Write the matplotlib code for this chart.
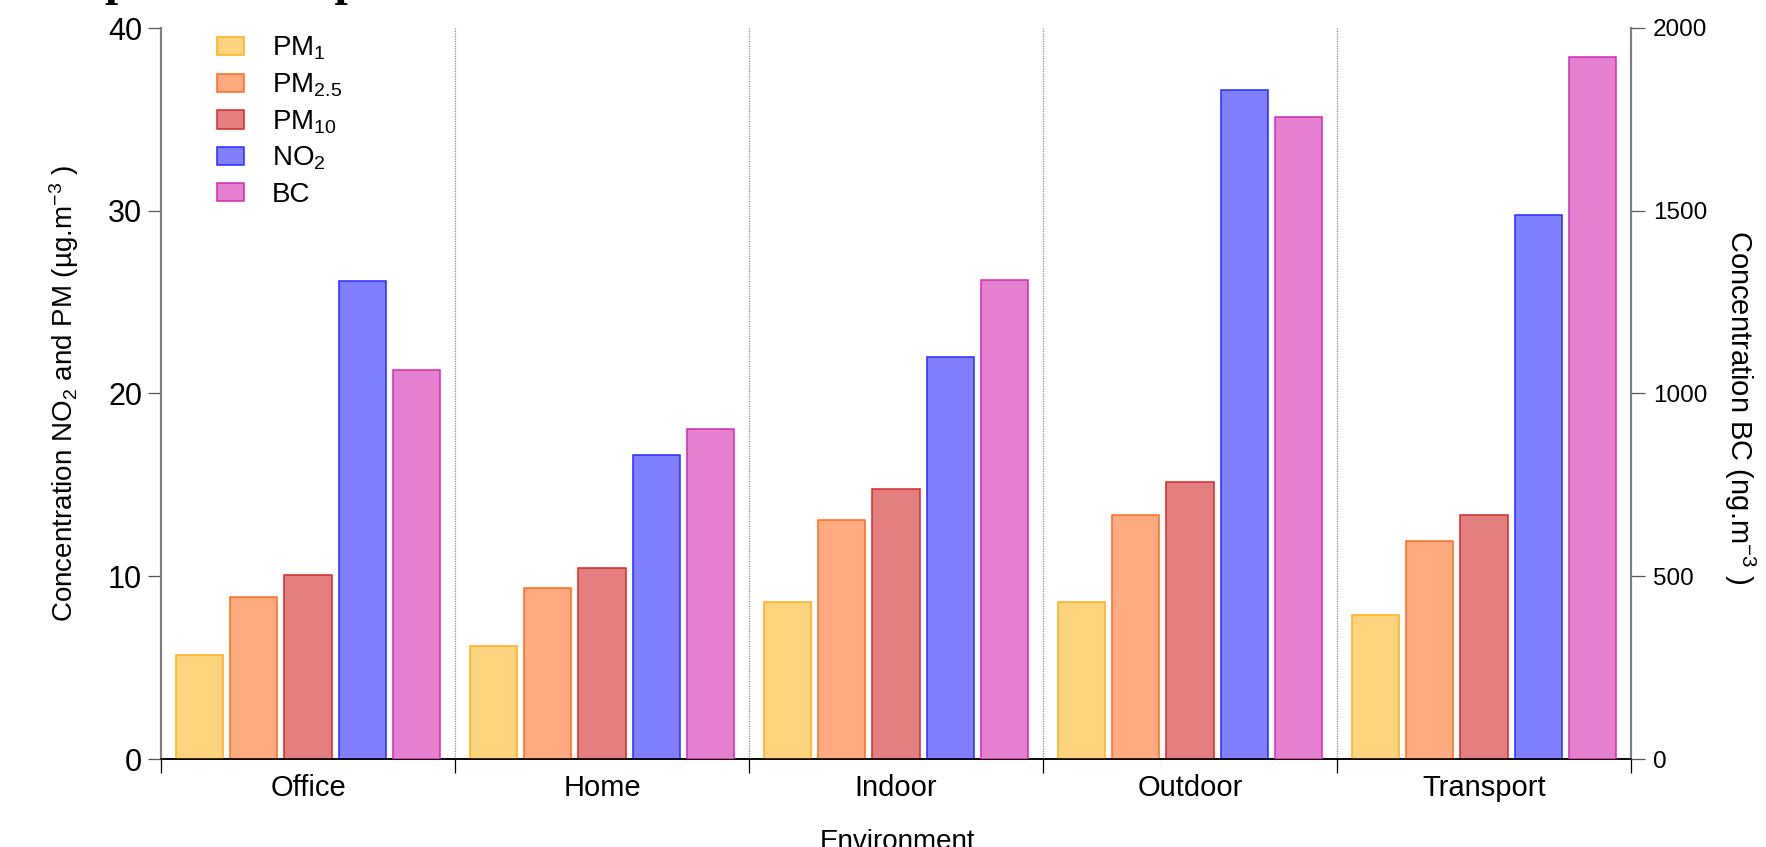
import matplotlib
matplotlib.use("Agg")
import matplotlib.pyplot as plt
import numpy as np
from matplotlib.patches import Patch

plt.rcParams.update({
    "font.family": "Liberation Sans",
    "mathtext.fontset": "custom",
    "mathtext.rm": "Liberation Sans",
    "mathtext.it": "Liberation Sans:italic",
    "mathtext.bf": "Liberation Sans:bold",
})

# mean concentrations per micro-environment
environments = ["Office", "Home", "Indoor", "Outdoor", "Transport"]
pm1 = [5.7, 6.2, 8.6, 8.6, 7.9]
pm25 = [8.85, 9.35, 13.1, 13.35, 11.95]
pm10 = [10.05, 10.45, 14.75, 15.15, 13.35]
no2 = [26.15, 16.65, 22.0, 36.6, 29.75]
bc = [1064, 902, 1310, 1756, 1920]          # ng.m-3, right axis

series = [
    ("PM$_1$", pm1, "#ffd47f", "#ffae1a"),
    ("PM$_{2.5}$", pm25, "#ffaa7f", "#ff6a1f"),
    ("PM$_{10}$", pm10, "#e47f7f", "#d42a2a"),
    ("NO$_2$", no2, "#7f7fff", "#2a2aff"),
]
bc_style = ("BC", "#e57fcf", "#d42ab4")

W, H = 1766, 847
fig = plt.figure(figsize=(W / 100, H / 100), dpi=100)
ax = fig.add_axes([161 / W, 1 - 759 / H, 1470 / W, 731 / H])
ax2 = ax.twinx()

x = np.arange(len(environments))
step, width = 0.184, 0.16

handles = []
for j, (lab, vals, face, edge) in enumerate(series):
    ax.bar(x + (j - 2) * step, vals, width, color=face, edgecolor=edge,
           linewidth=1.1, zorder=3)
    handles.append(Patch(facecolor=face, edgecolor=edge, linewidth=1.1, label=lab))
lab, face, edge = bc_style
ax2.bar(x + 2 * step, bc, width, color=face, edgecolor=edge, linewidth=1.1,
        zorder=3)
handles.append(Patch(facecolor=face, edgecolor=edge, linewidth=1.1, label=lab))

ax.set_xlim(-0.5, len(environments) - 0.5)
ax.set_ylim(0, 40)
ax2.set_ylim(0, 2000)
ax.set_yticks([0, 10, 20, 30, 40])
ax2.set_yticks([0, 500, 1000, 1500, 2000])

for b in x[:-1] + 0.5:
    ax.axvline(b, color="#8c8c8c", linestyle=(0, (1, 1)), lw=0.9, zorder=1)

ax.set_xticks(x)
ax.set_xticklabels(environments, fontsize=21)
ax.set_xticks(np.arange(-0.5, len(environments)), minor=True)
ax.tick_params(axis="x", which="major", length=0, pad=11)
ax.tick_params(axis="x", which="minor", length=10, width=0.9, color="black")
ax.tick_params(axis="y", length=9.5, width=0.9, color="#555555",
               labelsize=22, pad=4)
ax2.tick_params(axis="y", length=10, width=0.9, color="#555555",
                labelsize=17.5, pad=6)

for a in (ax, ax2):
    a.spines["top"].set_visible(False)
    a.spines["left"].set_color("#7f7f7f")
    a.spines["right"].set_color("#7f7f7f")
    a.spines["left"].set_linewidth(1.5)
    a.spines["right"].set_linewidth(1.5)
    a.spines["bottom"].set_linewidth(1.1)

fig.text(64 / W, 1 - 394 / H,
         "Concentration NO$_2$ and PM (µg.m$^{-3}$ )",
         rotation=90, ha="center", va="center", fontsize=20)
fig.text(1740 / W, 1 - 407 / H, "Concentration BC (ng.m$^{-3}$ )",
         rotation=270, ha="center", va="center", fontsize=21)
fig.text(897 / W, 1 - 849 / H, "Environment", ha="center", va="baseline",
         fontsize=20)
fig.text(105 / W, 1 + 5 / H, "personal exposure", ha="left", va="baseline",
         fontsize=34, fontweight="bold", family="Liberation Serif")

fig.legend(handles=handles, loc="upper left",
           bbox_to_anchor=(217 / W, 1 - 35 / H), bbox_transform=fig.transFigure,
           frameon=False, fontsize=20, borderpad=0, borderaxespad=0,
           handlelength=0.97, handleheight=0.64, handletextpad=1.0,
           labelspacing=0.33)

fig.savefig("out.png", dpi=100)
